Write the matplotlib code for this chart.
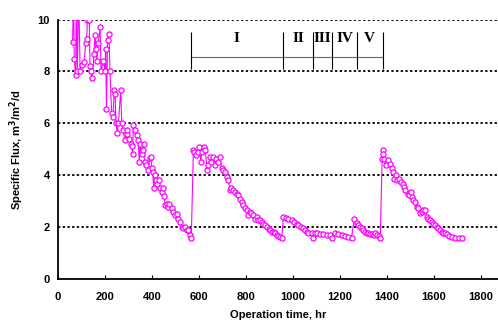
import numpy as np
import matplotlib
matplotlib.use("Agg")
import matplotlib.pyplot as plt

# operation time (hr) and specific flux (m3/m2/d)
hours = [62, 66, 69, 75, 78, 82, 88, 94, 101, 111, 118, 122, 125, 133, 136, 140, 146,
         153, 157, 162, 165, 171, 179, 183, 193, 200, 203, 206, 211, 217, 221, 228,
         233, 240, 243, 246, 253, 257, 267, 271, 275, 285, 292, 295, 304, 309, 313,
         318, 320, 327, 335, 341, 346, 349, 356, 360, 366, 370, 375, 384, 391, 396,
         398, 403, 407, 411, 416, 423, 428, 434, 443, 448, 452, 455, 462, 470, 474,
         484, 491, 498, 505, 512, 519, 526, 533, 540, 547, 554, 562, 567,
         # run 2
         576, 578, 587, 596, 601, 607, 612, 621, 626, 635, 640, 647, 653, 660, 667,
         674, 681, 689, 696, 703, 710, 718, 725, 732, 738, 745, 752, 760, 767, 774,
         781, 789, 796, 803, 810, 817, 823, 830, 838, 845, 852, 860, 867, 874, 881,
         888, 896, 903, 910, 917, 923, 930, 938, 945, 952,
         # run 3
         959, 968, 978, 994, 1004, 1016, 1023, 1033, 1042, 1052, 1058, 1065, 1079,
         1086, 1093, 1103, 1115, 1129, 1143, 1157, 1164, 1178, 1193, 1207, 1221,
         1235, 1249,
         # run 4
         1260, 1271, 1278, 1285, 1292, 1299, 1307, 1314, 1321, 1328, 1336, 1343,
         1350, 1357, 1364, 1371,
         # run 5
         1379, 1381, 1384, 1387, 1396, 1406, 1413, 1420, 1427, 1430, 1438, 1444,
         1452, 1458, 1467, 1472, 1478, 1487, 1495, 1501, 1505, 1512, 1519, 1526,
         1533, 1540, 1548, 1555, 1562, 1569, 1576, 1583, 1590, 1597, 1604, 1611,
         1618, 1626, 1633, 1640, 1647, 1654, 1665, 1675, 1690, 1704, 1718]

flux = [9.12, 11.0, 8.49, 7.88, 11.0, 8.0, 11.0, 8.0, 8.23, 8.37, 9.1, 9.25, 10.0, 10.0,
        8.22, 8.0, 7.75, 8.68, 9.41, 8.87, 8.42, 9.1, 9.7, 8.0, 8.42, 8.0, 8.87, 6.57,
        9.22, 9.46, 8.0, 6.40, 6.24, 7.3, 7.12, 6.01, 5.63, 6.01, 7.3, 6.01, 5.76,
        5.35, 5.6, 5.76, 5.41, 5.22, 5.11, 4.83, 5.92, 5.76, 5.54, 5.35, 4.51, 5.19,
        4.83, 4.99, 5.19, 4.51, 4.38, 4.19, 4.68, 4.70, 4.26, 4.13, 3.49, 4.0, 3.8,
        3.68, 3.8, 3.49, 3.36, 3.49, 3.2, 2.85, 2.91, 2.78, 2.91, 2.72, 2.59, 2.46,
        2.52, 2.33, 2.2, 2.01, 1.95, 2.01, 1.88, 1.88, 1.69, 1.6,
        # run 2
        4.96, 4.90, 4.77, 4.90, 5.09, 4.51, 4.90, 5.09, 4.96, 4.22, 4.38, 4.71, 4.51,
        4.71, 4.38, 4.64, 4.51, 4.71, 4.26, 4.19, 4.13, 3.94, 3.81, 3.42, 3.49, 3.42,
        3.36, 3.29, 3.23, 3.10, 2.97, 2.85, 2.72, 2.65, 2.46, 2.59, 2.53, 2.46, 2.33,
        2.40, 2.27, 2.27, 2.20, 2.14, 2.08, 2.01, 1.94, 1.88, 1.82, 1.82, 1.76, 1.69,
        1.65, 1.63, 1.6,
        # run 3
        2.40, 2.37, 2.33, 2.27, 2.20, 2.14, 2.08, 2.01, 1.95, 1.88, 1.82, 1.76, 1.76,
        1.60, 1.78, 1.76, 1.73, 1.73, 1.69, 1.69, 1.60, 1.76, 1.73, 1.69, 1.65, 1.63,
        1.60,
        # run 4
        2.30, 2.17, 2.08, 2.01, 1.95, 1.88, 1.82, 1.78, 1.78, 1.73, 1.73, 1.69, 1.78,
        1.69, 1.65, 1.60,
        # run 5
        4.64, 4.96, 4.83, 4.64, 4.38, 4.58, 4.45, 4.26, 4.13, 3.87, 4.0, 3.81, 3.87,
        3.74, 3.68, 3.55, 3.42, 3.29, 3.23, 3.36, 3.17, 3.04, 2.97, 2.78, 2.72, 2.53,
        2.59, 2.65, 2.65, 2.40, 2.33, 2.27, 2.20, 2.14, 2.08, 2.01, 1.97, 1.88, 1.82,
        1.78, 1.76, 1.73, 1.65, 1.62, 1.60, 1.60, 1.60]

# operating phases marked on top of the plot
phase_names = ["I", "II", "III", "IV", "V"]
phase_edges = [565, 956, 1086, 1167, 1271, 1381]

plt.rcParams['font.family'] = ['Liberation Sans', 'DejaVu Sans']

fig = plt.figure(figsize=(4.98, 3.2), dpi=100)
ax = fig.add_axes([0.1165, 0.128, 0.8835, 0.811])

ax.plot(hours, flux, '-o', color='#ff00ff', lw=0.8, ms=3.7, mew=0.9,
        mfc='white', mec='#ff00ff')

ax.set_xlim(0, 1872)
ax.set_ylim(0, 10)
ax.set_xticks(np.arange(0, 1801, 200))
ax.set_yticks(np.arange(0, 11, 2))
for yy in [2, 4, 6, 8, 10]:
    ax.axhline(yy, color='black', ls=(0, (1.3, 1.3)), lw=1.3, zorder=0)

ax.spines['top'].set_visible(False)
ax.spines['right'].set_visible(False)
ax.spines['left'].set_linewidth(1.3)
ax.spines['bottom'].set_linewidth(1.3)
ax.tick_params(axis='x', direction='in', length=3, width=0.8, pad=9)
ax.tick_params(axis='y', length=0, pad=6)
for lab in ax.get_xticklabels() + ax.get_yticklabels():
    lab.set_fontweight('bold')
    lab.set_fontsize(8)

ax.set_xlabel('Operation time, hr', fontsize=8, fontweight='bold', labelpad=6)
ax.set_ylabel('Specific Flux, m$^{\\mathbf{3}}$/m$^{\\mathbf{2}}$/d', fontsize=8,
              fontweight='bold', labelpad=8)

# phase bracket
ax.plot([phase_edges[0], phase_edges[-1]], [8.56, 8.56], color='#666666', lw=0.8)
ax.vlines(phase_edges, 8.1, 9.52, color='black', lw=0.8)
for i, name in enumerate(phase_names):
    xc = (phase_edges[i] + phase_edges[i + 1]) / 2
    ax.text(xc, 9.26, name, ha='center', va='center', fontsize=11,
            fontweight='bold', family='Liberation Serif')

fig.savefig('out.png', dpi=100)
